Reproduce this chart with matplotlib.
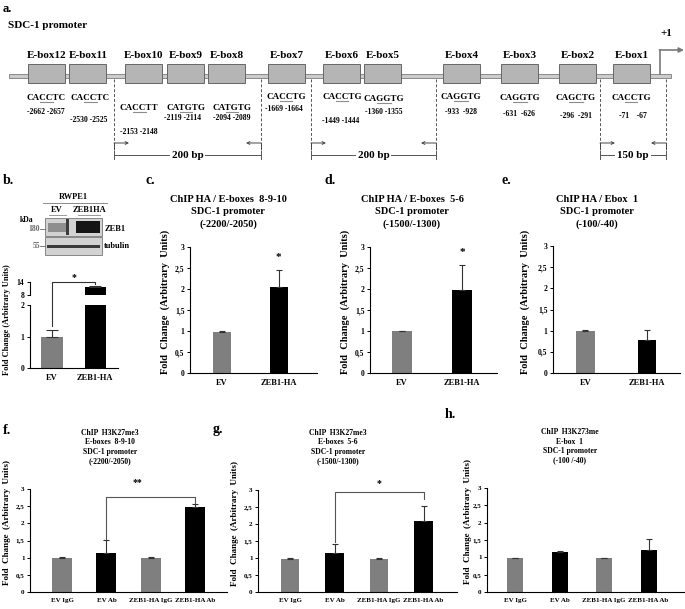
import numpy as np
import matplotlib
matplotlib.use('Agg')
import matplotlib.pyplot as plt
from matplotlib.patches import Rectangle

# ---------------- data ----------------
ebox_names = ['E-box12', 'E-box11', 'E-box10', 'E-box9', 'E-box8', 'E-box7',
              'E-box6', 'E-box5', 'E-box4', 'E-box3', 'E-box2', 'E-box1']
ebox_seqs = ['CACCTC', 'CACCTC', 'CACCTT', 'CATGTG', 'CATGTG', 'CACCTG',
             'CACCTG', 'CAGGTG', 'CAGGTG', 'CAGGTG', 'CAGCTG', 'CACCTG']
ebox_coords = ['-2662 -2657', '-2530 -2525', '-2153 -2148', '-2119 -2114',
               '-2094 -2089', '-1669 -1664', '-1449 -1444', '-1360 -1355',
               '-933  -928', '-631  -626', '-296  -291', '-71    -67']
amplicon_labels = ['200 bp', '200 bp', '150 bp']

b_categories = ['EV', 'ZEB1-HA']
b_values = [1.0, 11.5]
b_errors = [0.22, 0.8]

two_categories = ['EV', 'ZEB1-HA']
c_values = [0.98, 2.05]
c_errors = [0.02, 0.40]
d_values = [0.99, 1.98]
d_errors = [0.01, 0.60]
e_values = [1.00, 0.78]
e_errors = [0.01, 0.24]

four_categories = ['EV IgG', 'EV Ab', 'ZEB1-HA IgG', 'ZEB1-HA Ab']
f_values = [1.00, 1.15, 1.00, 2.47]
f_errors = [0.01, 0.37, 0.01, 0.10]
g_values = [0.98, 1.14, 0.98, 2.08]
g_errors = [0.01, 0.28, 0.01, 0.45]
h_values = [0.98, 1.15, 0.98, 1.22]
h_errors = [0.01, 0.02, 0.01, 0.30]

y_ticks = [0, 0.5, 1, 1.5, 2, 2.5, 3]
y_ticklabels = ['0', '0,5', '1', '1,5', '2', '2,5', '3']

# ---------------- layout ----------------
ebox_x = [47, 88, 144, 186, 227, 287, 342, 383, 462, 520, 578, 632]
seq_x = [46, 90, 139, 186, 232, 286, 342, 384, 461, 520, 576, 631]
seq_y = [98, 98, 108, 108, 108, 97, 97, 99, 97, 98, 98, 98]
coord_x = [46, 89, 139, 183, 232, 284, 341, 384, 461, 519, 576, 633]
coord_y = [112, 120, 132, 118, 118, 109, 121, 112, 112, 114, 116, 116]
amplicon_px = [(114, 261), (311, 436), (600, 666)]

GRAY = '#7f7f7f'
plt.rcParams['font.family'] = ['Liberation Serif', 'DejaVu Serif']
plt.rcParams['font.weight'] = 'bold'
plt.rcParams['axes.labelweight'] = 'bold'

W, H = 685, 609
fig = plt.figure(figsize=(W / 100, H / 100), dpi=100)
fig.patch.set_facecolor('white')

ov = fig.add_axes([0, 0, 1, 1])
ov.set_xlim(0, W)
ov.set_ylim(H, 0)
ov.axis('off')
ov.patch.set_alpha(0)
renderer = fig.canvas.get_renderer()


def px_axes(x0, y_top, x1, y_bot):
    return fig.add_axes([x0 / W, 1 - y_bot / H, (x1 - x0) / W, (y_bot - y_top) / H])


def style(ax, fs=5.5):
    ax.patch.set_alpha(0)
    for s in ['top', 'right']:
        ax.spines[s].set_visible(False)
    for s in ['left', 'bottom']:
        ax.spines[s].set_linewidth(0.8)
    ax.tick_params(axis='y', direction='out', length=2.5, width=0.7,
                   labelsize=fs, pad=1.5)
    ax.tick_params(axis='x', length=0, labelsize=fs, pad=4)


# ---------------- panel a ----------------
ov.text(3, 9, 'a.', fontsize=9, va='center', ha='left')
ov.text(8, 25, 'SDC-1 promoter', fontsize=8, va='center', ha='left')
ov.add_patch(Rectangle((9, 74), 662, 4, fc='#cccccc', ec='#8a8a8a', lw=0.7, zorder=1))
for name, x in zip(ebox_names, ebox_x):
    ov.add_patch(Rectangle((x - 18.5, 64), 37, 19, fc='#b5b5b5', ec='#666666',
                           lw=0.7, zorder=2))
    ov.text(x, 56, name, fontsize=8, ha='center', va='center')


def underlined(x, y, s, i0, i1, fs):
    t = ov.text(x, y, s, ha='center', va='center', fontsize=fs)
    bb = t.get_window_extent(renderer)
    tmp0 = ov.text(0, 0, s[:i0], fontsize=fs)
    w0 = tmp0.get_window_extent(renderer).width
    tmp0.remove()
    tmp1 = ov.text(0, 0, s[:i1], fontsize=fs)
    w1 = tmp1.get_window_extent(renderer).width
    tmp1.remove()
    ov.plot([bb.x0 + w0 + 0.3, bb.x0 + w1 - 0.3], [y + 3.6, y + 3.6],
            color='#8c8c8c', lw=0.8)


for s, x, y in zip(ebox_seqs, seq_x, seq_y):
    underlined(x, y, s, 2, 4, 6.5)
for s, x, y in zip(ebox_coords, coord_x, coord_y):
    ov.text(x, y, s, fontsize=5.5, ha='center', va='center')

# +1 transcription start arrow
ov.plot([660, 660], [74, 50], color='#7a7a7a', lw=1.2)
ov.annotate('', xy=(684, 50), xytext=(659.4, 50),
            arrowprops=dict(arrowstyle='-|>', color='#7a7a7a', lw=1.2,
                            mutation_scale=7, shrinkA=0, shrinkB=0))
ov.text(666, 34, '+1', fontsize=8, ha='center', va='center')

for (xl, xr), lab in zip(amplicon_px, amplicon_labels):
    for xx in (xl, xr):
        ov.plot([xx, xx], [79, 150], color='#555555', lw=0.7, ls=(0, (3, 2)))
        ov.plot([xx, xx], [151, 159], color='#555555', lw=0.7)
    ov.plot([xl, xl], [143, 148], color='#444444', lw=0.7)
    ov.plot([xr, xr], [143, 148], color='#444444', lw=0.7)
    ov.annotate('', xy=(xl + 15, 143), xytext=(xl, 143),
                arrowprops=dict(arrowstyle='->', color='#444444', lw=0.7,
                                mutation_scale=5, shrinkA=0, shrinkB=0))
    ov.annotate('', xy=(xr - 15, 143), xytext=(xr, 143),
                arrowprops=dict(arrowstyle='->', color='#444444', lw=0.7,
                                mutation_scale=5, shrinkA=0, shrinkB=0))
    ov.plot([xl, xr], [155, 155], color='#555555', lw=0.7)
    ov.text((xl + xr) / 2, 155, lab, fontsize=8, ha='center', va='center',
            bbox=dict(fc='white', ec='none', pad=1.5))

# ---------------- panel b (blot) ----------------
ov.text(3, 180, 'b.', fontsize=10, ha='left', va='center')
ov.text(73, 197, 'RWPE1', fontsize=6, ha='center', va='center')
ov.plot([43, 107], [203, 203], color='#777777', lw=0.6)
ov.text(57, 210, 'EV', fontsize=6, ha='center', va='center')
ov.text(89, 210, 'ZEB1HA', fontsize=6, ha='center', va='center')
ov.plot([49, 66], [215, 215], color='#888888', lw=0.6)
ov.plot([78, 100], [215, 215], color='#888888', lw=0.6)
ov.text(27, 220, 'kDa', fontsize=5.5, ha='center', va='center')
ov.add_patch(Rectangle((45, 218), 57, 18, fc='#d2d2d2', ec='#777777', lw=0.6))
ov.add_patch(Rectangle((48, 223), 19, 9, fc='#8e8e8e', ec='none'))
ov.add_patch(Rectangle((66, 219), 3, 16, fc='#3a3a3a', ec='none'))
ov.add_patch(Rectangle((76, 221), 24, 12, fc='#151515', ec='none'))
ov.add_patch(Rectangle((45, 237), 57, 18, fc='#d2d2d2', ec='#777777', lw=0.6))
ov.add_patch(Rectangle((47, 244.5), 53, 3, fc='#3a3a3a', ec='none'))
ov.text(40, 229, '180', fontsize=5.5, ha='right', va='center', color='#666666')
ov.plot([40.5, 45], [229, 229], color='#666666', lw=0.6)
ov.text(40, 246, '55', fontsize=5.5, ha='right', va='center', color='#666666')
ov.plot([40.5, 45], [246, 246], color='#666666', lw=0.6)
ov.text(105, 229, 'ZEB1', fontsize=6, ha='left', va='center')
ov.text(104, 246, 'tubulin', fontsize=6, ha='left', va='center')

xb = np.arange(len(b_categories))
b_colors = [GRAY, 'black']
axb_lo = px_axes(30, 305, 118, 368)
axb_hi = px_axes(30, 282, 118, 295)
for ax in (axb_lo, axb_hi):
    style(ax, 5.5)
    ax.bar(xb, b_values, width=0.49, color=b_colors)
    ax.errorbar(xb, b_values, yerr=[np.zeros(2), b_errors], fmt='none',
                ecolor='#333333', elinewidth=0.8, capsize=4, capthick=0.8)
    ax.set_xlim(-0.51, 1.53)
axb_lo.set_ylim(0, 2)
axb_lo.set_yticks([0, 1, 2])
axb_lo.set_xticks(xb)
axb_lo.set_xticklabels(b_categories, fontsize=6)
axb_hi.set_ylim(8, 14)
axb_hi.set_yticks([8, 14])
axb_hi.spines['bottom'].set_visible(False)
axb_hi.set_xticks([])
axb_lo.plot([0, 0, 1, 1], [1.33, 2.73, 2.73, 2.67], color='#333333', lw=0.8,
            clip_on=False)
axb_lo.text(0.5, 2.87, '*', fontsize=7, ha='center', va='center')
ov.text(7, 320, 'Fold Change (Arbitrary Units)', fontsize=6, rotation=90,
        ha='center', va='center')

# ---------------- panels c, d, e ----------------
two_x = np.arange(len(two_categories))
two_colors = [GRAY, 'black']
top_panels = [
    ('c.', 150, (190, 247, 317, 373), (-0.56, 1.67), 0.32, c_values, c_errors,
     228, ['ChIP HA / E-boxes  8-9-10', 'SDC-1 promoter', '(-2200/-2050)'], 165, 2.76),
    ('d.', 330, (370, 247, 497, 373), (-0.53, 1.58), 0.32, d_values, d_errors,
     412, ['ChIP HA / E-boxes  5-6', 'SDC-1 promoter', '(-1500/-1300)'], 345, 2.88),
    ('e.', 506, (553, 246, 680, 373), (-0.52, 1.53), 0.30, e_values, e_errors,
     597, ['ChIP HA / Ebox  1', 'SDC-1 promoter', '(-100/-40)'], 525, None),
]
for letter, lx, box, xlim, bw, vals, errs, tx, title, ylx, star in top_panels:
    ov.text(lx, 180, letter, fontsize=10, ha='center', va='center')
    for i, line in enumerate(title):
        ov.text(tx, 200 + 12 * i, line, fontsize=7.5, ha='center', va='center')
    ax = px_axes(*box)
    style(ax, 5.5)
    ax.bar(two_x, vals, width=bw, color=two_colors)
    ax.errorbar(two_x, vals, yerr=[np.zeros(2), errs], fmt='none',
                ecolor='#333333', elinewidth=0.8, capsize=2, capthick=0.8)
    ax.set_xlim(*xlim)
    ax.set_ylim(0, 3)
    ax.set_yticks(y_ticks)
    ax.set_yticklabels(y_ticklabels)
    ax.set_xticks(two_x)
    ax.set_xticklabels(two_categories, fontsize=6)
    if star is not None:
        ax.text(1, star, '*', fontsize=8, ha='center', va='center', clip_on=False)
    ov.text(ylx, (box[1] + box[3]) / 2 - 8, 'Fold  Change  (Arbitrary  Units)',
            fontsize=7.5, rotation=90, ha='center', va='center')

# ---------------- panels f, g, h ----------------
four_x = np.arange(len(four_categories))
four_colors = [GRAY, 'black', GRAY, 'black']
bottom_panels = [
    ('f.', (7, 430), (30, 489, 227, 592), (-0.72, 3.71), 0.45, f_values, f_errors,
     110, 433, ['ChIP  H3K27me3', 'E-boxes  8-9-10', 'SDC-1 promoter', '(-2200/-2050)'],
     7, (1.55, 2.77, 2.6, 1.7, 3.18, '**')),
    ('g.', (218, 430), (258, 490, 457, 592), (-0.72, 3.75), 0.42, g_values, g_errors,
     338, 433, ['ChIP  H3K27me3', 'E-boxes  5-6', 'SDC-1 promoter', '(-1500/-1300)'],
     235, (1.47, 2.95, 2.75, 2.0, 3.2, '*')),
    ('h.', (450, 415), (487, 488, 685, 592), (-0.63, 3.82), 0.36, h_values, h_errors,
     570, 432, ['ChIP  H3K273me', 'E-box  1', 'SDC-1 promoter', '(-100 /-40)'],
     468, None),
]
for letter, lxy, box, xlim, bw, vals, errs, tx, ty, title, ylx, br in bottom_panels:
    ov.text(lxy[0], lxy[1], letter, fontsize=10, ha='center', va='center')
    for i, line in enumerate(title):
        ov.text(tx, ty + 9.5 * i, line, fontsize=5.5, ha='center', va='center')
    ax = px_axes(*box)
    style(ax, 5)
    ax.bar(four_x, vals, width=bw, color=four_colors)
    ax.errorbar(four_x, vals, yerr=[np.zeros(4), errs], fmt='none',
                ecolor='#333333', elinewidth=0.8, capsize=2, capthick=0.8)
    ax.set_xlim(*xlim)
    ax.set_ylim(0, 3)
    ax.set_yticks(y_ticks)
    ax.set_yticklabels(y_ticklabels)
    ax.set_xticks(four_x)
    ax.set_xticklabels(four_categories, fontsize=5)
    if br is not None:
        ylo, ytop, yr, sx, sy, sym = br
        ax.plot([1, 1, 3, 3], [ylo, ytop, ytop, yr], color='#555555', lw=0.8,
                clip_on=False)
        ax.text(sx, sy, sym, fontsize=7, ha='center', va='center', clip_on=False)
    ov.text(ylx, (box[1] + box[3]) / 2 - 18, 'Fold  Change  (Arbitrary  Units)',
            fontsize=6.5, rotation=90, ha='center', va='center')

fig.savefig('out.png', dpi=100, facecolor='white')
